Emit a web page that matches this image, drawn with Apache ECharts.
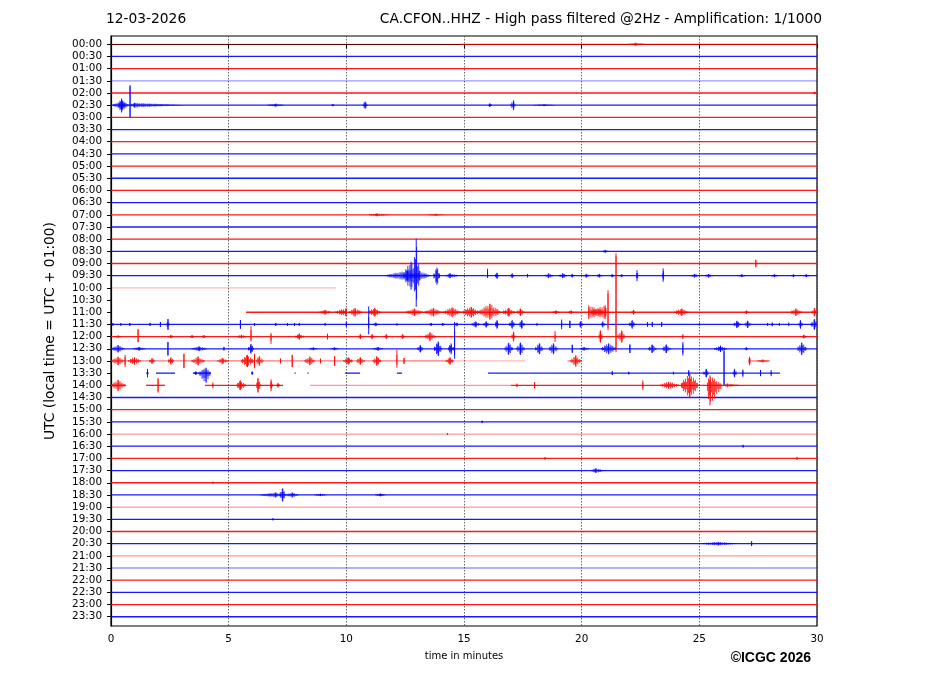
<!DOCTYPE html>
<html>
<head>
<meta charset="utf-8">
<script src="https://cdn.jsdelivr.net/npm/echarts@6/dist/echarts.min.js"></script>
<style>html,body{margin:0;padding:0;background:#fff}#c{width:927px;height:696px}</style>
</head>
<body>
<div id="c"></div>
<script>
// ---- tick labels (one per half-hour trace) ----
const rowLabels = ["00:00","00:30","01:00","01:30","02:00","02:30","03:00","03:30","04:00","04:30",
"05:00","05:30","06:00","06:30","07:00","07:30","08:00","08:30","09:00","09:30",
"10:00","10:30","11:00","11:30","12:00","12:30","13:00","13:30","14:00","14:30",
"15:00","15:30","16:00","16:30","17:00","17:30","18:00","18:30","19:00","19:30",
"20:00","20:30","21:00","21:30","22:00","22:30","23:00","23:30"];
const xTicks = [0, 5, 10, 15, 20, 25, 30];

// ---- trace segments where data exists: [row, startMin, endMin, opacity] ----
const traceExceptions = {
  0: [[0, 0, 14.8, 0.45], [0, 14.8, 30, 0.85]],
  3: [[3, 0, 30, 0.45]],
  20: [[20, 0, 9.56, 0.3]],
  21: [],
  22: [[22, 5.74, 30, 1]],
  26: [[26, 0, 14.6, 0.6], [26, 14.6, 17.6, 0.3], [26, 19.4, 20.0, 0.6], [26, 27.1, 28.0, 0.6]],
  27: [[27, 1.5, 1.6, 1], [27, 1.91, 2.72, 1], [27, 3.48, 4.25, 1], [27, 5.95, 6.05, 1], [27, 7.8, 7.85, 1],
       [27, 8.35, 8.4, 1], [27, 9.94, 10.58, 1], [27, 12.15, 12.37, 1], [27, 16.02, 28.43, 1]],
  28: [[28, 0, 0.64, 1], [28, 1.49, 2.29, 1], [28, 3.99, 7.31, 1], [28, 8.46, 17, 0.45], [28, 17, 30, 1]],
  32: [[32, 0, 30, 0.45]],
  38: [[38, 0, 30, 0.45]],
  42: [[42, 0, 30, 0.45]],
  43: [[43, 0, 30, 0.45]]
};

// ---- signal bursts: [row, startMin, peakMin, endMin, ampUp, ampDown] (amplitudes in trace spacings) ----
const bursts = [
  [0, 21.9, 22.3, 22.9, 0.12, 0.12],
  [4, 29.8, 29.9, 30, 0.1, 0.1],
  [5, 0.05, 0.5, 0.8, 0.35, 0.35],
  [5, 0.3, 0.45, 0.6, 0.55, 0.6],
  [5, 0.76, 0.81, 0.86, 1.64, 0.99],
  [5, 0.8, 1.0, 3.1, 0.2, 0.2],
  [5, 6.6, 7.0, 7.4, 0.12, 0.12],
  [5, 9.35, 9.43, 9.5, 0.1, 0.1],
  [5, 10.67, 10.8, 10.92, 0.3, 0.3],
  [5, 16.0, 16.1, 16.2, 0.15, 0.15],
  [5, 16.95, 17.1, 17.2, 0.4, 0.4],
  [5, 17.9, 18.4, 18.9, 0.08, 0.08],
  [14, 10.9, 11.3, 11.9, 0.12, 0.12],
  [14, 13.4, 13.8, 14.2, 0.08, 0.08],
  [17, 20.86, 21.0, 21.2, 0.12, 0.12],
  [18, 27.35, 27.4, 27.45, 0.3, 0.3],
  [19, 11.64, 12.6, 13.05, 0.4, 0.4],
  [19, 12.4, 12.75, 13.0, 1.15, 1.15],
  [19, 12.85, 12.97, 13.12, 3.04, 2.55],
  [19, 13.0, 13.1, 13.6, 0.4, 0.4],
  [19, 13.68, 13.85, 14.0, 0.66, 0.74],
  [19, 14.2, 14.4, 14.8, 0.2, 0.2],
  [19, 15.95, 16.0, 16.05, 0.57, 0.2],
  [19, 16.3, 16.4, 16.5, 0.25, 0.25],
  [19, 16.95, 17.05, 17.15, 0.2, 0.2],
  [19, 17.65, 17.7, 17.75, 0.15, 0.15],
  [19, 18.44, 18.6, 18.8, 0.2, 0.2],
  [19, 19.0, 19.2, 19.4, 0.2, 0.2],
  [19, 19.5, 19.6, 19.7, 0.15, 0.15],
  [19, 20.05, 20.2, 20.35, 0.15, 0.15],
  [19, 20.6, 20.75, 20.9, 0.15, 0.15],
  [19, 21.2, 21.3, 21.4, 0.12, 0.12],
  [19, 21.6, 21.7, 21.76, 0.12, 0.12],
  [19, 22.3, 22.35, 22.42, 0.45, 0.45],
  [19, 23.4, 23.46, 23.52, 0.6, 0.5],
  [19, 24.6, 24.8, 25.0, 0.15, 0.15],
  [19, 25.2, 25.4, 25.6, 0.15, 0.15],
  [19, 26.6, 26.8, 27.0, 0.12, 0.12],
  [19, 28.0, 28.2, 28.4, 0.12, 0.12],
  [19, 28.9, 29.0, 29.1, 0.12, 0.12],
  [19, 29.4, 29.55, 29.7, 0.12, 0.12],
  [22, 8.8, 9.1, 9.4, 0.2, 0.2],
  [22, 9.5, 9.99, 10.05, 0.33, 0.33],
  [22, 10.1, 10.37, 10.7, 0.35, 0.35],
  [22, 10.9, 11.2, 11.5, 0.35, 0.35],
  [22, 12.5, 12.9, 13.3, 0.3, 0.3],
  [22, 13.3, 13.7, 14.1, 0.35, 0.35],
  [22, 14.1, 14.5, 14.9, 0.4, 0.4],
  [22, 14.9, 15.3, 15.7, 0.45, 0.45],
  [22, 15.6, 16.1, 16.6, 0.7, 0.6],
  [22, 16.6, 16.9, 17.2, 0.35, 0.35],
  [22, 17.2, 17.4, 17.6, 0.3, 0.3],
  [22, 18.7, 18.9, 19.1, 0.15, 0.15],
  [22, 19.4, 19.55, 19.7, 0.15, 0.15],
  [22, 20.27, 20.3, 21.04, 0.57, 0.57],
  [22, 20.35, 21.0, 21.08, 0.57, 0.57],
  [22, 21.09, 21.12, 21.15, 1.81, 1.48],
  [22, 21.43, 21.46, 21.49, 4.84, 3.28],
  [22, 22.1, 22.2, 22.3, 0.2, 0.2],
  [22, 23.9, 24.25, 24.6, 0.3, 0.3],
  [22, 26.9, 27.0, 27.1, 0.15, 0.15],
  [22, 28.85, 29.1, 29.4, 0.3, 0.3],
  [22, 29.75, 29.9, 30.0, 0.35, 0.35],
  [23, 0.04, 0.08, 0.12, 0.12, 0.12],
  [23, 0.38, 0.42, 0.46, 0.12, 0.12],
  [23, 0.76, 0.8, 0.84, 0.12, 0.12],
  [23, 1.62, 1.66, 1.7, 0.12, 0.12],
  [23, 2.05, 2.1, 2.15, 0.2, 0.2],
  [23, 2.35, 2.42, 2.5, 0.45, 0.45],
  [23, 5.45, 5.5, 5.55, 0.35, 0.35],
  [23, 6.05, 6.1, 6.15, 0.12, 0.12],
  [23, 6.95, 7.0, 7.05, 0.12, 0.12],
  [23, 7.45, 7.5, 7.55, 0.12, 0.12],
  [23, 7.75, 7.8, 7.85, 0.12, 0.12],
  [23, 7.95, 8.0, 8.05, 0.12, 0.12],
  [23, 9.05, 9.1, 9.15, 0.12, 0.12],
  [23, 9.95, 10.0, 10.05, 0.2, 0.2],
  [23, 10.92, 10.95, 10.98, 1.48, 0.82],
  [23, 11.1, 11.25, 11.4, 0.15, 0.15],
  [23, 12.1, 12.15, 12.2, 0.1, 0.1],
  [23, 13.5, 13.6, 13.7, 0.12, 0.12],
  [23, 14.0, 14.1, 14.2, 0.12, 0.12],
  [23, 14.6, 14.7, 14.8, 0.15, 0.15],
  [23, 15.3, 15.5, 15.7, 0.25, 0.25],
  [23, 15.8, 15.95, 16.1, 0.25, 0.25],
  [23, 16.3, 16.4, 16.5, 0.35, 0.35],
  [23, 16.9, 17.05, 17.2, 0.35, 0.35],
  [23, 17.3, 17.45, 17.6, 0.35, 0.35],
  [23, 18.05, 18.1, 18.15, 0.12, 0.12],
  [23, 19.1, 19.15, 19.2, 0.4, 0.4],
  [23, 19.45, 19.5, 19.55, 0.3, 0.3],
  [23, 19.85, 19.95, 20.1, 0.25, 0.25],
  [23, 20.8, 20.9, 21.0, 0.25, 0.25],
  [23, 22.0, 22.15, 22.3, 0.35, 0.35],
  [23, 22.75, 22.8, 22.85, 0.2, 0.2],
  [23, 22.95, 23.0, 23.05, 0.2, 0.2],
  [23, 23.35, 23.4, 23.45, 0.2, 0.2],
  [23, 24.95, 25.0, 25.05, 0.12, 0.12],
  [23, 26.4, 26.6, 26.8, 0.3, 0.3],
  [23, 26.9, 27.05, 27.2, 0.3, 0.3],
  [23, 27.85, 27.9, 27.95, 0.12, 0.12],
  [23, 28.05, 28.1, 28.15, 0.15, 0.15],
  [23, 28.35, 28.4, 28.45, 0.12, 0.12],
  [23, 28.75, 28.8, 28.85, 0.15, 0.15],
  [23, 29.2, 29.3, 29.4, 0.35, 0.35],
  [23, 29.7, 29.9, 30.0, 0.45, 0.45],
  [24, 0.1, 0.3, 0.5, 0.1, 0.1],
  [24, 1.1, 1.15, 1.2, 0.6, 0.45],
  [24, 2.4, 2.55, 2.7, 0.15, 0.15],
  [24, 3.3, 3.45, 3.6, 0.12, 0.12],
  [24, 3.8, 3.95, 4.1, 0.12, 0.12],
  [24, 5.3, 5.55, 5.8, 0.15, 0.15],
  [24, 5.92, 5.95, 5.98, 0.85, 0.4],
  [24, 6.76, 6.8, 6.84, 0.3, 0.6],
  [24, 7.8, 8.0, 8.25, 0.25, 0.25],
  [24, 9.15, 9.2, 9.25, 0.25, 0.25],
  [24, 10.5, 10.6, 10.7, 0.2, 0.2],
  [24, 11.0, 11.1, 11.2, 0.2, 0.2],
  [24, 11.6, 11.7, 11.8, 0.2, 0.2],
  [24, 12.3, 12.4, 12.5, 0.2, 0.2],
  [24, 13.3, 13.55, 13.85, 0.35, 0.35],
  [24, 17.0, 17.1, 17.2, 0.4, 0.4],
  [24, 18.82, 18.87, 18.92, 0.45, 0.45],
  [24, 20.7, 20.8, 20.9, 0.5, 0.5],
  [24, 21.5, 21.7, 21.85, 0.5, 0.5],
  [24, 24.25, 24.3, 24.35, 0.2, 0.2],
  [24, 29.3, 29.45, 29.6, 0.15, 0.15],
  [25, 0.0, 0.3, 0.6, 0.3, 0.3],
  [25, 0.9, 1.2, 1.5, 0.15, 0.15],
  [25, 2.37, 2.42, 2.47, 0.55, 0.55],
  [25, 3.4, 3.75, 4.1, 0.2, 0.2],
  [25, 4.75, 4.8, 4.85, 0.15, 0.15],
  [25, 5.8, 5.95, 6.1, 0.4, 0.4],
  [25, 8.4, 8.6, 8.8, 0.12, 0.12],
  [25, 9.3, 9.5, 9.7, 0.12, 0.12],
  [25, 11.1, 11.35, 11.6, 0.15, 0.15],
  [25, 13.0, 13.15, 13.3, 0.3, 0.3],
  [25, 13.7, 13.9, 14.1, 0.6, 0.6],
  [25, 14.3, 14.45, 14.6, 0.45, 0.45],
  [25, 14.57, 14.6, 14.63, 2.2, 0.82],
  [25, 16.7, 16.9, 17.1, 0.5, 0.5],
  [25, 17.2, 17.4, 17.6, 0.5, 0.5],
  [25, 18.0, 18.2, 18.4, 0.45, 0.45],
  [25, 18.6, 18.8, 19.0, 0.45, 0.45],
  [25, 19.55, 19.6, 19.65, 0.35, 0.35],
  [25, 19.9, 20.1, 20.35, 0.15, 0.15],
  [25, 20.8, 21.15, 21.5, 0.45, 0.45],
  [25, 22.0, 22.05, 22.1, 0.35, 0.35],
  [25, 22.8, 23.0, 23.2, 0.35, 0.35],
  [25, 23.4, 23.6, 23.8, 0.35, 0.35],
  [25, 24.25, 24.3, 24.35, 0.55, 0.55],
  [25, 25.6, 25.9, 26.2, 0.25, 0.25],
  [25, 26.9, 27.0, 27.1, 0.12, 0.12],
  [25, 29.15, 29.35, 29.6, 0.5, 0.5],
  [26, 0.0, 0.3, 0.6, 0.35, 0.35],
  [26, 0.55, 0.6, 0.65, 0.5, 0.5],
  [26, 0.7, 1.0, 1.3, 0.3, 0.3],
  [26, 1.6, 1.75, 1.9, 0.25, 0.25],
  [26, 2.4, 2.55, 2.7, 0.3, 0.3],
  [26, 3.05, 3.1, 3.15, 0.6, 0.6],
  [26, 3.4, 3.7, 4.0, 0.35, 0.35],
  [26, 4.5, 4.75, 5.0, 0.25, 0.25],
  [26, 5.5, 5.8, 6.1, 0.5, 0.5],
  [26, 6.05, 6.1, 6.15, 0.6, 0.6],
  [26, 6.15, 6.3, 6.5, 0.4, 0.4],
  [26, 7.15, 7.2, 7.25, 0.2, 0.2],
  [26, 7.65, 7.7, 7.75, 0.5, 0.5],
  [26, 8.2, 8.45, 8.7, 0.35, 0.35],
  [26, 8.85, 8.9, 8.95, 0.2, 0.2],
  [26, 9.45, 9.5, 9.55, 0.4, 0.4],
  [26, 9.85, 10.1, 10.3, 0.3, 0.3],
  [26, 10.4, 10.6, 10.8, 0.3, 0.3],
  [26, 11.1, 11.3, 11.5, 0.4, 0.4],
  [26, 12.1, 12.15, 12.2, 0.9, 0.55],
  [26, 12.4, 12.45, 12.5, 0.25, 0.25],
  [26, 14.2, 14.4, 14.6, 0.3, 0.3],
  [26, 19.5, 19.75, 20.0, 0.45, 0.45],
  [26, 27.07, 27.13, 27.2, 0.35, 0.35],
  [26, 27.4, 27.7, 28.0, 0.12, 0.12],
  [27, 1.5, 1.55, 1.6, 0.35, 0.35],
  [27, 3.5, 3.6, 3.7, 0.15, 0.15],
  [27, 3.7, 4.04, 4.25, 0.45, 0.8],
  [27, 5.95, 6.0, 6.05, 0.12, 0.12],
  [27, 21.25, 21.3, 21.35, 0.15, 0.15],
  [27, 21.95, 22.0, 22.05, 0.12, 0.12],
  [27, 23.85, 23.9, 23.95, 0.12, 0.12],
  [27, 24.5, 24.55, 24.6, 0.25, 0.25],
  [27, 25.15, 25.3, 25.4, 0.35, 0.35],
  [27, 26.02, 26.05, 26.08, 1.89, 0.99],
  [27, 26.4, 26.5, 26.6, 0.35, 0.35],
  [27, 26.8, 26.85, 26.9, 0.3, 0.3],
  [27, 27.55, 27.6, 27.65, 0.25, 0.25],
  [27, 28.0, 28.05, 28.1, 0.25, 0.25],
  [28, 0.0, 0.3, 0.64, 0.45, 0.45],
  [28, 1.95, 2.0, 2.05, 0.6, 0.6],
  [28, 4.28, 4.33, 4.38, 0.25, 0.25],
  [28, 5.3, 5.5, 5.75, 0.4, 0.4],
  [28, 6.15, 6.25, 6.4, 0.6, 0.6],
  [28, 6.75, 6.8, 6.9, 0.5, 0.5],
  [28, 7.0, 7.1, 7.2, 0.2, 0.2],
  [28, 17.2, 17.25, 17.3, 0.15, 0.15],
  [28, 17.95, 18.0, 18.05, 0.25, 0.25],
  [28, 22.55, 22.6, 22.65, 0.4, 0.4],
  [28, 23.3, 23.7, 24.2, 0.3, 0.3],
  [28, 24.2, 24.6, 25.0, 1.0, 1.07],
  [28, 25.3, 25.45, 26.0, 0.82, 1.64],
  [28, 26.0, 26.2, 26.85, 0.15, 0.15],
  [31, 15.72, 15.77, 15.82, 0.1, 0.1],
  [32, 14.25, 14.3, 14.35, 0.08, 0.08],
  [33, 26.81, 26.86, 26.91, 0.12, 0.12],
  [34, 18.4, 18.44, 18.5, 0.12, 0.12],
  [34, 29.1, 29.15, 29.2, 0.12, 0.12],
  [35, 20.4, 20.6, 21.0, 0.2, 0.2],
  [36, 4.3, 4.33, 4.37, 0.1, 0.1],
  [37, 6.3, 7.0, 7.3, 0.2, 0.2],
  [37, 7.15, 7.3, 7.45, 0.55, 0.55],
  [37, 7.4, 7.7, 8.0, 0.2, 0.2],
  [37, 8.6, 8.9, 9.2, 0.1, 0.1],
  [37, 11.2, 11.45, 11.7, 0.12, 0.12],
  [39, 6.83, 6.88, 6.93, 0.1, 0.1],
  [41, 25.0, 25.8, 26.7, 0.15, 0.15],
  [41, 27.18, 27.22, 27.27, 0.2, 0.2]
];

// ---------------------------------------------------------------
const RED = '#ff0000', BLUE = '#0000ff';
const rowColor = r => (r % 2 === 0 ? RED : BLUE);
const rowIdx = rowLabels.map((_, i) => i);

const segments = [];
rowIdx.forEach(r => {
  if (traceExceptions.hasOwnProperty(r)) traceExceptions[r].forEach(s => segments.push(s));
  else segments.push([r, 0, 30, 1]);
});

const chart = echarts.init(document.getElementById('c'), null, {renderer: 'canvas'});
const FONT = 'DejaVu Sans';

// envelope of a burst (0..1) at time t
function env(t, t0, tp, t1) {
  if (t <= t0 || t >= t1) return 0;
  if (t <= tp) return Math.pow((t - t0) / Math.max(tp - t0, 1e-6), 0.7);
  return Math.pow((t1 - t) / Math.max(t1 - tp, 1e-6), 0.9);
}
// hatch strength pattern (a drawing style for the trace texture)
const HATCH = [1, 0.55, 0.85, 0.4, 0.95, 0.65];

chart.setOption({
  animation: false,
  backgroundColor: '#fff',
  grid: {left: 111, right: 110, top: 36, bottom: 70, show: true, borderColor: '#000', borderWidth: 1.2, backgroundColor: 'transparent'},
  xAxis: {
    type: 'value', min: 0, max: 30, interval: 5,
    axisLine: {show: true, lineStyle: {color: '#000', width: 1.2}},
    axisTick: {show: true, length: 4, lineStyle: {color: '#000'}},
    axisLabel: {color: '#000', fontFamily: FONT, fontSize: 10.4, margin: 8},
    splitLine: {show: true, lineStyle: {color: '#444', type: [1.5, 1.5], width: 0.8}},
    name: 'time in minutes', nameLocation: 'middle', nameGap: 25,
    nameTextStyle: {color: '#000', fontFamily: FONT, fontSize: 10}
  },
  yAxis: {
    type: 'value', inverse: true, min: -0.68, max: 47.76,
    axisLine: {show: true, lineStyle: {color: '#000', width: 1.2}},
    axisTick: {show: true, length: 4, customValues: rowIdx, lineStyle: {color: '#000'}},
    axisLabel: {color: '#000', fontFamily: FONT, fontSize: 10.4, margin: 9, customValues: rowIdx,
      formatter: v => rowLabels[Math.round(v)] || ''},
    splitLine: {show: false},
    name: 'UTC (local time = UTC + 01:00)', nameLocation: 'middle', nameGap: 54, nameRotate: 90,
    nameTextStyle: {color: '#000', fontFamily: FONT, fontSize: 13.8}
  },
  graphic: [
    {type: 'text', left: 106, top: 12, style: {text: '12-03-2026', fill: '#000', font: '13.8px "DejaVu Sans"'}},
    {type: 'text', right: 105, top: 12, style: {text: 'CA.CFON..HHZ - High pass filtered @2Hz - Amplification: 1/1000', fill: '#000', font: '13.8px "DejaVu Sans"'}},
    {type: 'text', right: 116, top: 651, style: {text: '©ICGC 2026', fill: '#000', font: 'bold 14px "Liberation Sans"'}}
  ],
  series: [
    {
      type: 'custom', name: 'traces', silent: true,
      data: segments,
      renderItem: (params, api) => {
        const r = api.value(0);
        const p0 = api.coord([api.value(1), r]);
        const p1 = api.coord([api.value(2), r]);
        return {type: 'line', shape: {x1: p0[0], y1: p0[1], x2: p1[0], y2: p1[1]},
          style: {stroke: rowColor(r), lineWidth: 1.3, opacity: api.value(3) * 0.9}};
      }
    },
    {
      type: 'custom', name: 'bursts', silent: true,
      data: bursts,
      renderItem: (params, api) => {
        const r = api.value(0);
        const t0 = api.value(1), tp = api.value(2), t1 = api.value(3), up = api.value(4), dn = api.value(5);
        const c = rowColor(r);
        const xa = api.coord([t0, r])[0], xb = api.coord([t1, r])[0];
        const children = [];
        const n = Math.max(2, Math.round(xb - xa));
        for (let i = 0; i <= n; i++) {
          const x = xa + (xb - xa) * i / n;
          const t = t0 + (t1 - t0) * i / n;
          const e = env(t, t0, tp, t1) * HATCH[(i + Math.round(xa)) % HATCH.length];
          const pu = api.coord([t, r - up * e]);
          const pd = api.coord([t, r + dn * e]);
          children.push({type: 'line', shape: {x1: x, y1: pu[1], x2: x, y2: pd[1]},
            style: {stroke: c, lineWidth: 1, opacity: 0.8}});
        }
        const pTop = api.coord([tp, r - up]);
        const pBot = api.coord([tp, r + dn]);
        children.push({type: 'line', shape: {x1: pTop[0], y1: pTop[1], x2: pBot[0], y2: pBot[1]},
          style: {stroke: c, lineWidth: 1, opacity: 0.9}});
        return {type: 'group', children: children};
      }
    }
  ]
});
</script>
</body>
</html>
